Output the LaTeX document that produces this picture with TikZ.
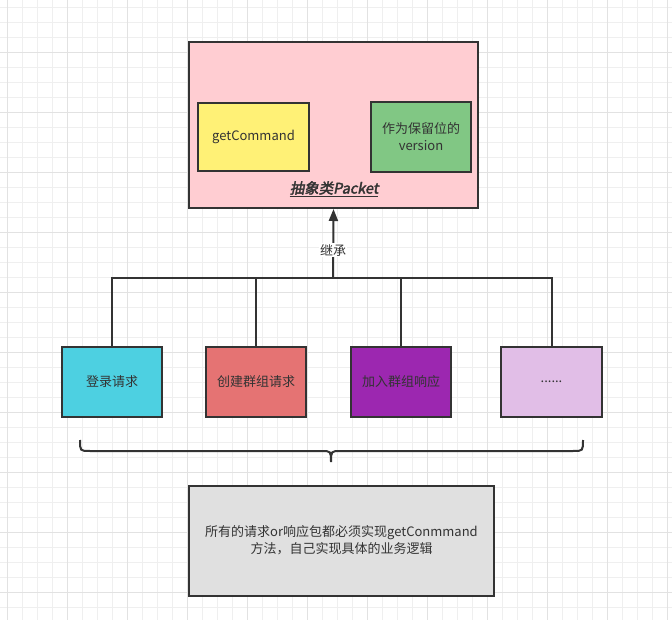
\documentclass[tikz,border=0pt]{standalone}
\usepackage{fontspec}
\setmainfont{Noto Sans CJK SC}
\newfontfamily\packetfont[FakeSlant=0.2,FakeBold=2.5]{Noto Sans CJK SC}
\usepackage{xcolor}
\usepackage{tikz}
\usetikzlibrary{arrows.meta, positioning}

\definecolor{ink}{HTML}{333333}
\definecolor{gridminor}{HTML}{EFEFEF}
\definecolor{gridmajor}{HTML}{E2E2E2}
\definecolor{packetpink}{HTML}{FFCDD2}
\definecolor{cmdyellow}{HTML}{FFF176}
\definecolor{versiongreen}{HTML}{81C784}
\definecolor{logincyan}{HTML}{4DD0E1}
\definecolor{createred}{HTML}{E57373}
\definecolor{joinpurple}{HTML}{9C27B0}
\definecolor{morelilac}{HTML}{E1BEE7}
\definecolor{notegray}{HTML}{E0E0E0}

\begin{document}
\begin{tikzpicture}[x=1pt, y=-1pt,
    box/.style={draw=ink, line width=2pt, text=ink, align=center,
        inner sep=0pt, font=\fontsize{13}{17}\selectfont},
    link/.style={draw=ink, line width=2pt}]
            % Background grid
            \useasboundingbox (0,0) rectangle (672,620);
            \fill[white] (0,0) rectangle (672,620);
            \foreach \i in {0,...,44} {
                \draw[gridminor, line width=0.8pt] (7.3+15*\i,0) -- (7.3+15*\i,620);
            }
            \foreach \i in {0,...,41} {
                \draw[gridminor, line width=0.8pt] (0,7.3+15*\i) -- (672,7.3+15*\i);
            }
            \foreach \i in {0,...,11} {
                \draw[gridmajor, line width=0.8pt] (7.3+60*\i,0) -- (7.3+60*\i,620);
            }
            \foreach \i in {-1,...,10} {
                \draw[gridmajor, line width=0.8pt] (0,52.3+60*\i) -- (672,52.3+60*\i);
            }

            % Abstract Packet
            \node[box, fill=packetpink, minimum width=289pt, minimum height=166pt] (packet) at (333.5,125) {};
            \node[box, fill=cmdyellow, minimum width=111pt, minimum height=68pt] (getcmd) at (253.5,137) {getCommand};
            \node[box, fill=versiongreen, minimum width=100pt, minimum height=70pt] (version) at (421,137) {作为保留位的\\version};
            \node[text=ink, inner sep=1pt, font=\fontsize{14.5}{18}\selectfont] (packetlabel) at (334,189) {\packetfont\underline{抽象类Packet}};

            % Requests and responses
            \node[box, fill=logincyan, minimum width=100pt, minimum height=70pt] (login) at (112,382) {登录请求};
            \node[box, fill=createred, minimum width=100pt, minimum height=70pt] (creategroup) at (256,382) {创建群组请求};
            \node[box, fill=joinpurple, minimum width=100pt, minimum height=70pt] (joingroup) at (401,382) {加入群组响应};
            \node[box, fill=morelilac, minimum width=101pt, minimum height=70pt] (more) at (551.5,382) {......};

            % Inheritance
            \coordinate (hub) at (333,278);
            \draw[link] (login.north) |- (hub);
            \draw[link] (creategroup.north) |- (hub);
            \draw[link] (joingroup.north) |- (hub);
            \draw[link] (more.north) |- (hub);
            \draw[link, -{Triangle[width=9pt,length=12pt]}] (hub) -- (packet.south)
                node[pos=0.4, fill=white, text=ink, inner sep=1pt, font=\fontsize{13}{17}\selectfont] (inherit) {继承};

            % Brace
            \draw[ink, line width=2pt] (80,440) .. controls (80,451) .. (90,451) -- (321,451)
                .. controls (331,451) .. (331,462) .. controls (331,451) .. (341,451) -- (573,451)
                .. controls (583,451) .. (583,440);

            % Note
            \node[box, fill=notegray, minimum width=305pt, minimum height=110pt] (note) at (341.5,540.5)
                {所有的请求or响应包都必须实现getConmmand\\方法，自己实现具体的业务逻辑};
        \end{tikzpicture}
\end{document}
